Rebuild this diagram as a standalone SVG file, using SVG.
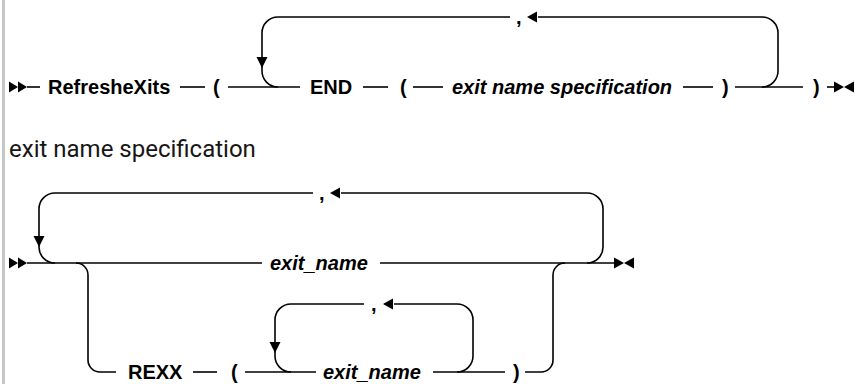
<svg xmlns="http://www.w3.org/2000/svg" xmlns:xlink="http://www.w3.org/1999/xlink" width="856" height="384" viewBox="0 0 856 384">
  <defs>
    <style>
      .ln { fill: none; stroke: #000; stroke-width: 1.6; }
      .kw { font-family: "Liberation Sans", Arial, sans-serif; font-size: 20px; font-weight: bold; fill: #000; }
      .var { font-family: "Liberation Sans", Arial, sans-serif; font-size: 20px; font-weight: bold; font-style: italic; fill: #000; }
      .title { font-family: Roboto, "Liberation Sans", sans-serif; font-size: 24px; fill: #161616; }
      .ah { fill: #000; }
    </style>
    <path id="arrR" class="ah" d="M0,0 L-10,-5.5 L-10,5.5 Z"/>
    <path id="arrL" class="ah" d="M0,0 L10,-5.5 L10,5.5 Z"/>
    <path id="arrD" class="ah" d="M0,0 L-5.5,-11 L5.5,-11 Z"/>
    <g id="startMark">
      <path class="ah" d="M9,-5.5 L18,0 L9,5.5 Z"/>
      <path class="ah" d="M18,-5.5 L27,0 L18,5.5 Z"/>
    </g>
    <g id="endMark">
      <path class="ah" d="M0,-5.5 L10,0 L0,5.5 Z"/>
      <path class="ah" d="M20,-5.5 L10,0 L20,5.5 Z"/>
    </g>
  </defs>

  <rect x="2" y="0" width="3" height="384" fill="#c6c6c6"/>

  <!-- connectors -->
  <g id="connectors">
    <!-- top diagram -->
    <use xlink:href="#startMark" transform="translate(0,87)"/>
    <path class="ln" d="M27,87 H40"/>
    <path class="ln" d="M180,87 H205"/>
    <path class="ln" d="M228,87 H300"/>
    <path class="ln" d="M363,87 H388"/>
    <path class="ln" d="M413,87 H443"/>
    <path class="ln" d="M683,87 H713"/>
    <path class="ln" d="M735,87 H803"/>
    <path class="ln" d="M827,87 H835"/>
    <use xlink:href="#endMark" transform="translate(834,87)"/>
    <!-- top repeat loop -->
    <path class="ln" d="M762,87 A16,16 0 0 0 778,71 L778,33 A16,16 0 0 0 762,17 L538,17"/>
    <path class="ln" d="M510,17 L278,17 A16,16 0 0 0 262,33 L262,71 A16,16 0 0 0 278,87"/>
    <use xlink:href="#arrL" transform="translate(527,17)"/>
    <use xlink:href="#arrD" transform="translate(262,68)"/>

    <!-- lower diagram -->
    <use xlink:href="#startMark" transform="translate(0,263)"/>
    <path class="ln" d="M27,263 H262"/>
    <path class="ln" d="M380,263 H614"/>
    <use xlink:href="#endMark" transform="translate(614,263)"/>
    <!-- outer repeat loop -->
    <path class="ln" d="M587,263 A16,16 0 0 0 603,247 L603,209 A16,16 0 0 0 587,193 L341,193"/>
    <path class="ln" d="M313,193 L55,193 A16,16 0 0 0 39,209 L39,247 A16,16 0 0 0 55,263"/>
    <use xlink:href="#arrL" transform="translate(330,193)"/>
    <use xlink:href="#arrD" transform="translate(39,247)"/>
    <!-- REXX branch -->
    <path class="ln" d="M76,263 A12,12 0 0 1 88,275 L88,360 A12,12 0 0 0 100,372 L116,372"/>
    <path class="ln" d="M193,372 H217"/>
    <path class="ln" d="M245,372 H316"/>
    <path class="ln" d="M433,372 H505"/>
    <path class="ln" d="M525,372 H541 A12,12 0 0 0 553,360 L553,275 A12,12 0 0 1 565,263"/>
    <!-- inner repeat loop -->
    <path class="ln" d="M457,372 A16,16 0 0 0 473,356 L473,320 A16,16 0 0 0 457,304 L394,304"/>
    <path class="ln" d="M364,304 L291,304 A16,16 0 0 0 275,320 L275,356 A16,16 0 0 0 291,372"/>
    <use xlink:href="#arrL" transform="translate(383,304)"/>
    <use xlink:href="#arrD" transform="translate(275,353)"/>
  </g>

  <!-- nodes: top diagram -->
  <g id="n-refreshexits"><text class="kw" x="48" y="94">RefresheXits</text></g>
  <g id="n-lparen1"><text class="kw" x="213" y="94">(</text></g>
  <g id="n-end"><text class="kw" x="310" y="94">END</text></g>
  <g id="n-lparen2"><text class="kw" x="400" y="94">(</text></g>
  <g id="n-exitspec"><text class="var" x="452" y="94">exit name specification</text></g>
  <g id="n-rparen1"><text class="kw" x="722" y="94">)</text></g>
  <g id="n-rparen2"><text class="kw" x="813" y="94">)</text></g>
  <g id="n-comma1"><text class="kw" x="516" y="24">,</text></g>

  <!-- title -->
  <g id="t-spec"><text class="title" x="9" y="157">exit name specification</text></g>

  <!-- nodes: lower diagram -->
  <g id="n-exitname1"><text class="var" x="270" y="270">exit_name</text></g>
  <g id="n-comma2"><text class="kw" x="319" y="200">,</text></g>
  <g id="n-rexx"><text class="kw" x="128" y="379">REXX</text></g>
  <g id="n-lparen3"><text class="kw" x="231" y="379">(</text></g>
  <g id="n-exitname2"><text class="var" x="323" y="379">exit_name</text></g>
  <g id="n-comma3"><text class="kw" x="371" y="311">,</text></g>
  <g id="n-rparen3"><text class="kw" x="513" y="379">)</text></g>
</svg>
